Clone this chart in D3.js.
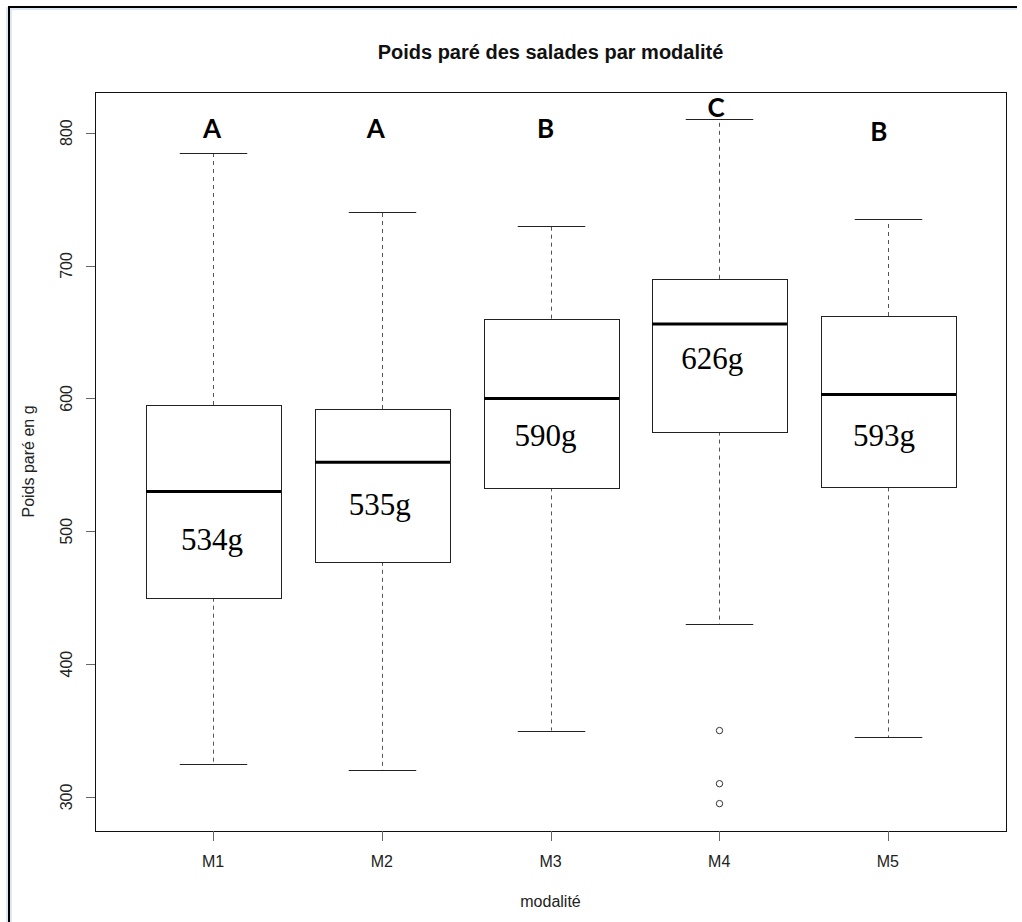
<!DOCTYPE html>
<html>
<head>
<meta charset="utf-8">
<script src="https://cdn.jsdelivr.net/npm/d3@7"></script>
<style>
  body { margin: 0; background: #fff; }
  svg { display: block; }
</style>
</head>
<body>
<div id="chart"></div>
<script>
// boxplot stats (grams)
var modalites = ["M1", "M2", "M3", "M4", "M5"];
var lowWhisker = [325, 320, 350, 430, 345];
var q1 = [450, 477, 533, 575, 533];
var median = [530, 552, 600, 656, 603];
var q3 = [595, 592, 660, 690, 662];
var highWhisker = [785, 740, 730, 810, 735];
var outliers = [[], [], [], [350, 310, 295], []];

// annotations added on top of the plot
var groupLetters = ["A", "A", "B", "C", "B"];
var letterY = [796, 796, 796, 812, 794];
var meanLabels = ["534g", "535g", "590g", "626g", "593g"];
var meanLabelY = [486, 512, 564, 622, 564];
var letterDx = [-1, -6, -5, -3, -9];
var meanLabelDx = [-1, -2, -5, -7, -4];

var yTicks = [300, 400, 500, 600, 700, 800];

var W = 1022, H = 922;
var svg = d3.select("#chart").append("svg")
    .attr("width", W)
    .attr("height", H);

// outer frame (screenshot border)
svg.append("line").attr("x1", 9).attr("x2", 9).attr("y1", 7).attr("y2", H)
    .attr("stroke", "#dde8f4").attr("stroke-width", 6);
svg.append("line").attr("x1", 9).attr("x2", 1017).attr("y1", 9).attr("y2", 9)
    .attr("stroke", "#dde8f4").attr("stroke-width", 3);
svg.append("line").attr("x1", 9).attr("x2", 9).attr("y1", 7).attr("y2", H)
    .attr("stroke", "#000").attr("stroke-width", 2);
svg.append("line").attr("x1", 8).attr("x2", 1017).attr("y1", 7).attr("y2", 7)
    .attr("stroke", "#000").attr("stroke-width", 2);
svg.append("rect").attr("x", 12).attr("y", 10).attr("width", 1005).attr("height", H - 10)
    .attr("fill", "#fff");

var plotLeft = 95, plotRight = 1006, plotTop = 92, plotBottom = 831;

var x = d3.scaleLinear().domain([0.3, 5.7]).range([plotLeft, plotRight]);
var y = d3.scaleLinear().domain([274.4, 830.6]).range([plotBottom, plotTop]);
var boxW = x(0.8) - x(0);
var capW = boxW / 2;

var g = svg.append("g");

// boxes
var boxes = g.selectAll("g.box")
    .data(modalites)
    .enter()
    .append("g")
    .attr("class", "box");

boxes.each(function(d, i){
    var sel = d3.select(this);
    var cx = Math.round(x(i + 1)) + 0.5;
    // whiskers
    sel.append("line")
        .attr("x1", cx).attr("x2", cx)
        .attr("y1", y(q3[i])).attr("y2", y(highWhisker[i]))
        .attr("stroke", "#555").attr("stroke-dasharray", "4,4");
    sel.append("line")
        .attr("x1", cx).attr("x2", cx)
        .attr("y1", y(q1[i])).attr("y2", y(lowWhisker[i]))
        .attr("stroke", "#555").attr("stroke-dasharray", "4,4");
    // caps
    [lowWhisker[i], highWhisker[i]].forEach(function(v){
        sel.append("line")
            .attr("x1", cx - capW / 2).attr("x2", cx + capW / 2)
            .attr("y1", Math.round(y(v)) + 0.5).attr("y2", Math.round(y(v)) + 0.5)
            .attr("stroke", "#222");
    });
    sel.append("rect")
        .attr("x", Math.round(cx - boxW / 2) + 0.5)
        .attr("y", Math.round(y(q3[i])) + 0.5)
        .attr("width", Math.round(boxW))
        .attr("height", Math.round(y(q1[i]) - y(q3[i])))
        .attr("fill", "#fff")
        .attr("stroke", "#222");
    sel.append("line")
        .attr("x1", cx - boxW / 2).attr("x2", cx + boxW / 2)
        .attr("y1", y(median[i])).attr("y2", y(median[i]))
        .attr("stroke", "#000").attr("stroke-width", 3);
    sel.selectAll("circle")
        .data(outliers[i])
        .enter()
        .append("circle")
        .attr("cx", cx)
        .attr("cy", function(v){ return y(v); })
        .attr("r", 3.2)
        .attr("fill", "none")
        .attr("stroke", "#333");
});

// plot frame
g.append("rect")
    .attr("x", plotLeft + 0.5).attr("y", plotTop + 0.5)
    .attr("width", plotRight - plotLeft).attr("height", plotBottom - plotTop)
    .attr("fill", "none").attr("stroke", "#111");

// y axis
var yAxis = svg.append("g");
yAxis.selectAll("line")
    .data(yTicks)
    .enter()
    .append("line")
    .attr("x1", plotLeft - 9).attr("x2", plotLeft)
    .attr("y1", function(d){ return Math.round(y(d)) + 0.5; })
    .attr("y2", function(d){ return Math.round(y(d)) + 0.5; })
    .attr("stroke", "#666");
yAxis.selectAll("text")
    .data(yTicks)
    .enter()
    .append("text")
    .attr("transform", function(d){ return "translate(72," + y(d) + ") rotate(-90)"; })
    .attr("text-anchor", "middle")
    .attr("font-family", "Liberation Sans, Arial, sans-serif")
    .attr("font-size", 16)
    .attr("fill", "#222")
    .text(function(d){ return d; });

// x axis
var xAxis = svg.append("g");
xAxis.selectAll("line")
    .data(modalites)
    .enter()
    .append("line")
    .attr("x1", function(d, i){ return Math.round(x(i + 1)) + 0.5; })
    .attr("x2", function(d, i){ return Math.round(x(i + 1)) + 0.5; })
    .attr("y1", plotBottom).attr("y2", plotBottom + 10)
    .attr("stroke", "#666");
xAxis.selectAll("text")
    .data(modalites)
    .enter()
    .append("text")
    .attr("x", function(d, i){ return x(i + 1); })
    .attr("y", 867)
    .attr("text-anchor", "middle")
    .attr("font-family", "Liberation Sans, Arial, sans-serif")
    .attr("font-size", 16)
    .attr("fill", "#222")
    .text(function(d){ return d; });

// titles
svg.append("text")
    .attr("x", (plotLeft + plotRight) / 2).attr("y", 59)
    .attr("text-anchor", "middle")
    .attr("font-family", "Liberation Sans, Arial, sans-serif")
    .attr("font-size", 20).attr("font-weight", "bold")
    .attr("fill", "#111")
    .text("Poids paré des salades par modalité");
svg.append("text")
    .attr("x", (plotLeft + plotRight) / 2).attr("y", 907)
    .attr("text-anchor", "middle")
    .attr("font-family", "Liberation Sans, Arial, sans-serif")
    .attr("font-size", 16)
    .attr("fill", "#222")
    .text("modalité");
svg.append("text")
    .attr("transform", "translate(34," + (plotTop + plotBottom) / 2 + ") rotate(-90)")
    .attr("text-anchor", "middle")
    .attr("font-family", "Liberation Sans, Arial, sans-serif")
    .attr("font-size", 16)
    .attr("fill", "#222")
    .text("Poids paré en g");

// group letters
svg.selectAll("text.letter")
    .data(groupLetters)
    .enter()
    .append("text")
    .attr("class", "letter")
    .attr("x", function(d, i){ return x(i + 1) + letterDx[i]; })
    .attr("y", function(d, i){ return y(letterY[i]); })
    .attr("text-anchor", "middle")
    .attr("font-family", "Lato, 'Open Sans', sans-serif")
    .attr("font-size", 26).attr("font-weight", "bold")
    .attr("fill", "#000")
    .text(function(d){ return d; });

// mean labels
svg.selectAll("text.mean")
    .data(meanLabels)
    .enter()
    .append("text")
    .attr("class", "mean")
    .attr("x", function(d, i){ return x(i + 1) + meanLabelDx[i]; })
    .attr("y", function(d, i){ return y(meanLabelY[i]); })
    .attr("text-anchor", "middle")
    .attr("font-family", "Liberation Serif, 'Times New Roman', serif")
    .attr("font-size", 31)
    .attr("fill", "#000")
    .text(function(d){ return d; });
</script>
</body>
</html>
